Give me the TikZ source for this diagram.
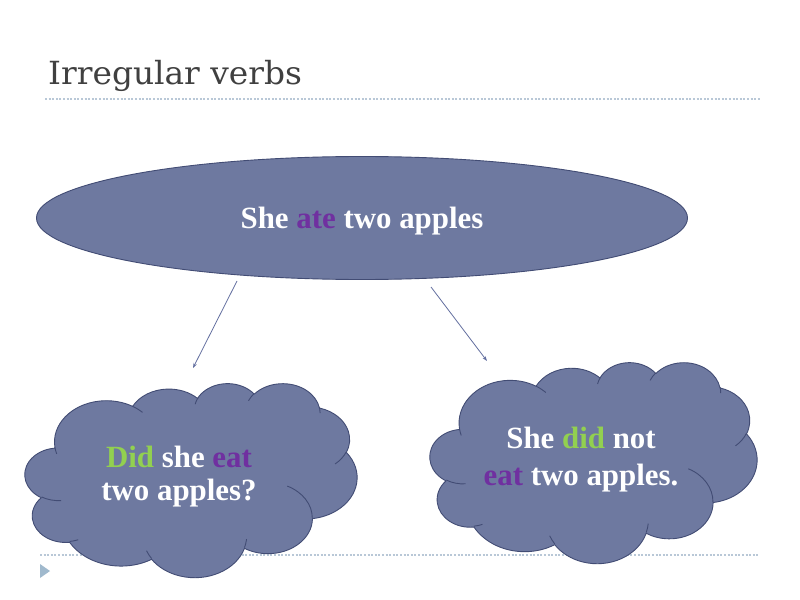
\documentclass[tikz,border=0pt]{standalone}
\usepackage{fontspec}
\setmainfont{Liberation Serif}
\newfontfamily\titlefont[FakeStretch=1.03]{DejaVu Serif}
\usetikzlibrary{shapes.geometric,arrows.meta}
\definecolor{shapefill}{RGB}{110,121,160}
\definecolor{shapeline}{RGB}{66,76,116}
\definecolor{arrowcol}{RGB}{100,112,160}
\definecolor{rulecol}{RGB}{185,200,215}
\definecolor{tricol}{RGB}{160,185,205}
\definecolor{titlecol}{RGB}{64,64,64}
\definecolor{wgreen}{RGB}{146,208,80}
\definecolor{wpurple}{RGB}{112,48,160}
% elliptical arc with DrawingML (visual) angles
\newcommand\pparc[4]{%
  \pgfextra{%
    \pgfmathsetmacro\ppa{atan2((#1)*sin(#3),(#2)*cos(#3))}%
    \pgfmathsetmacro\ppb{atan2((#1)*sin((#3)+(#4)),(#2)*cos((#3)+(#4)))}%
    \pgfmathsetmacro\ppb{\ppb+360*round((\ppa+(#4)-\ppb)/360)}%
  }%
  arc[start angle=\ppa, end angle=\ppb, x radius=#1, y radius=#2]%
}
\newcommand\ppcloud[4]{%
  \pgfmathsetmacro\ppsx{(#3)/432}%
  \pgfmathsetmacro\ppsy{(#4)/432}%
  \begin{scope}[shift={(#1,#2)},x=\ppsx bp,y=-\ppsy bp]
    \path[cloudshape] (39.00,143.70)
      \pparc{67.53}{91.90}{-190.4875}{123.7805}
      \pparc{53.33}{72.67}{-144.1024}{89.9452}
      \pparc{43.65}{59.45}{-145.8079}{99.7230}
      \pparc{48.57}{65.95}{-130.9861}{117.2417}
      \pparc{53.33}{72.73}{-78.7089}{109.0269}
      \pparc{67.75}{92.20}{-46.2673}{130.2690}
      \pparc{57.85}{78.67}{0.6250}{114.0333}
      \pparc{67.52}{92.15}{22.4516}{115.1726}
      \pparc{77.20}{105.43}{66.2426}{75.7110}
      \pparc{43.60}{59.18}{-274.9421}{146.7356}
      \pparc{43.45}{59.45}{-246.8285}{152.5189}
      -- cycle;
    \path[clouddetail]
      (46.93,261.77) \pparc{43.45}{59.45}{86.7420}{26.4295}
      (69.28,348.99) \pparc{43.60}{59.18}{73.6105}{11.4475}
      (164.78,390.90) \pparc{67.52}{92.15}{137.6242}{14.0811}
      (288.27,347.51) \pparc{67.52}{92.15}{6.4533}{15.9984}
      (341.29,229.54) \pparc{57.85}{78.67}{-70.2924}{70.9174}
      (417.98,153.54) \pparc{53.33}{72.73}{30.3180}{27.7515}
      (383.24,54.26) \pparc{48.57}{65.95}{-13.7443}{14.8589}
      (290.78,39.52) \pparc{48.57}{65.95}{-149.1815}{18.1954}
      (221.41,47.20) \pparc{43.65}{59.45}{-163.4943}{17.6864}
      (140.00,51.92) \pparc{67.53}{91.90}{-66.7070}{12.3194}
      (41.27,157.89) \pparc{67.53}{91.90}{157.6544}{11.8582};
  \end{scope}%
}
\tikzset{
  cloudshape/.style={fill=shapefill, draw=shapeline, line width=0.9bp, line join=round},
  clouddetail/.style={draw=shapeline, line width=0.9bp},
  bigtext/.style={text=white, font=\bfseries\fontsize{31}{31}\selectfont, inner sep=0pt},
  linetext/.style={bigtext, anchor=base},
  rule/.style={draw=rulecol, line width=1.3bp, dash pattern=on 2bp off 1.6bp},
  arr/.style={draw=arrowcol, line width=0.8bp, -{Stealth[length=5bp,width=3.5bp]}},
}
\begin{document}
\begin{tikzpicture}[x=1bp,y=-1bp]
  \useasboundingbox (0,0) rectangle (800,600);
  \fill[white] (0,0) rectangle (800,600);
  % title
  \node[anchor=base west, inner sep=0pt, text=titlecol,
        font=\titlefont\fontsize{32}{32}\selectfont] (title) at (48,85) {Irregular verbs};
  \draw[rule] (45,99) -- (760,99);
  \draw[rule] (40,555) -- (760,555);
  \fill[tricol] (40,564) -- (50,571) -- (40,578) -- cycle;
  % main ellipse
  \node[ellipse, fill=shapefill, draw=shapeline, line width=0.9bp,
        minimum width=651bp, minimum height=123bp, inner sep=0pt,
        bigtext, text depth=0pt] (top) at (362,218)
        {She \textcolor{wpurple}{ate} two apples};
  % arrows
  \coordinate (la) at (237,281);
  \coordinate (lb) at (193,368);
  \coordinate (ra) at (431,287);
  \coordinate (rb) at (487,361);
  \draw[arr] (la) -- (lb);
  \draw[arr] (ra) -- (rb);
  % clouds
  \ppcloud{25}{383}{332}{194}
  \ppcloud{430}{362}{327}{201}
  % cloud texts
  \node[linetext] (q1) at (179,467) {\textcolor{wgreen}{Did} she \textcolor{wpurple}{eat}};
  \node[linetext] (q2) at (179,500) {two apples?};
  \node[linetext] (n1) at (581,448) {She \textcolor{wgreen}{did} not};
  \node[linetext] (n2) at (581,485) {\textcolor{wpurple}{eat} two apples.};
\end{tikzpicture}
\end{document}
